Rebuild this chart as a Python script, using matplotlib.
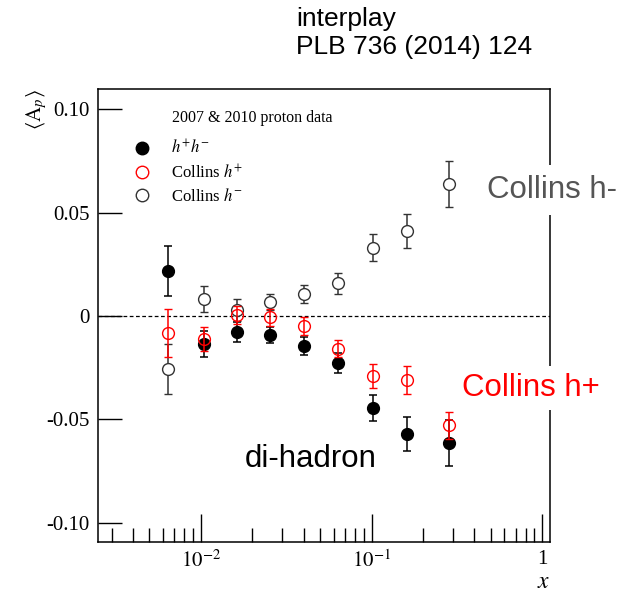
import numpy as np
import matplotlib
matplotlib.use('Agg')
import matplotlib.pyplot as plt
from matplotlib.lines import Line2D
from matplotlib.ticker import FixedLocator, FixedFormatter, LogLocator, NullFormatter

plt.rcParams['font.family'] = ['Liberation Serif', 'DejaVu Serif']
plt.rcParams['mathtext.fontset'] = 'stix'
plt.rcParams['axes.unicode_minus'] = False

# mean x of each bin
X_BINS = [0.0064, 0.0105, 0.0163, 0.0256, 0.0402, 0.0633, 0.102, 0.161, 0.283]

# di-hadron asymmetry h+h-
DIHADRON = [0.0219, -0.0135, -0.0077, -0.0092, -0.0145, -0.0227, -0.0444, -0.0570, -0.0614]
DIHADRON_ERR = [0.0121, 0.0063, 0.0048, 0.0040, 0.0044, 0.0048, 0.0063, 0.0082, 0.0113]

# Collins h+
COLLINS_POS = [-0.0082, -0.0111, 0.0005, -0.0005, -0.0048, -0.0159, -0.0290, -0.0309, -0.0527]
COLLINS_POS_ERR = [0.0118, 0.0060, 0.0045, 0.0041, 0.0044, 0.0041, 0.0056, 0.0066, 0.0065]

# Collins h-
COLLINS_NEG = [-0.0256, 0.0082, 0.0029, 0.0068, 0.0106, 0.0159, 0.0329, 0.0411, 0.0638]
COLLINS_NEG_ERR = [0.0121, 0.0065, 0.0053, 0.0039, 0.0044, 0.0051, 0.0065, 0.0082, 0.0109]

Y_TICKS = [-0.10, -0.05, 0.0, 0.05, 0.10]
Y_TICK_LABELS = ['-0.10', '-0.05', '0', '0.05', '0.10']

fig = plt.figure(figsize=(6.39, 5.92), dpi=100)
ax = fig.add_axes([98 / 639, 50 / 592, 452 / 639, 453 / 592])

ax.axhline(0, color='black', lw=0.9, ls=(0, (3, 2)), zorder=1)

ax.errorbar(X_BINS, DIHADRON, yerr=DIHADRON_ERR, fmt='o', color='black',
            ms=8.5, elinewidth=1.1, capsize=3, capthick=1.1, zorder=3)
ax.errorbar(X_BINS, COLLINS_NEG, yerr=COLLINS_NEG_ERR, fmt='o', color='#333333',
            mfc='white', mec='#333333', ms=8.5, mew=1.0, elinewidth=1.1,
            capsize=3, capthick=1.1, zorder=4)
ax.errorbar(X_BINS, COLLINS_POS, yerr=COLLINS_POS_ERR, fmt='o', color='red',
            mfc='none', mec='red', ms=8.5, mew=1.0, elinewidth=1.1,
            capsize=3, capthick=1.1, zorder=5)

ax.set_xscale('log')
ax.set_xlim(0.0025, 1.11)
ax.set_ylim(-0.1092, 0.1097)

ax.yaxis.set_major_locator(FixedLocator(Y_TICKS))
ax.yaxis.set_major_formatter(FixedFormatter(Y_TICK_LABELS))
ax.xaxis.set_major_locator(FixedLocator([0.01, 0.1, 1.0]))
ax.xaxis.set_major_formatter(FixedFormatter([r'$10^{-2}$', r'$10^{-1}$', '1']))
ax.xaxis.set_minor_locator(LogLocator(base=10, subs=np.arange(2, 10) * 1.0))
ax.xaxis.set_minor_formatter(NullFormatter())

ax.tick_params(axis='y', which='major', direction='in', length=17, width=1,
               labelsize=15, pad=6, right=False)
ax.tick_params(axis='x', which='major', direction='in', length=20, width=1,
               labelsize=15, pad=6, top=False)
ax.tick_params(axis='x', which='minor', direction='in', length=10, width=1, top=False)
for spine in ax.spines.values():
    spine.set_linewidth(1.1)

ax.set_xlabel(r'$x$', fontsize=17, loc='right', labelpad=0)
ax.set_ylabel(r'$\langle \mathrm{A}_p \rangle$', fontsize=15, loc='top', labelpad=-2)

# legend
fig.text(172 / 639, 1 - 118 / 592, '2007 & 2010 proton data', fontsize=11.5,
         va='center', ha='left')
handles = [Line2D([], [], ls='none', marker='o', color='black', ms=9),
           Line2D([], [], ls='none', marker='o', mfc='white', mec='red', ms=9),
           Line2D([], [], ls='none', marker='o', mfc='white', mec='#333333', ms=9)]
labels = [r'$h^{+}h^{-}$', r'Collins $h^{+}$', r'Collins $h^{-}$']
ax.legend(handles, labels, loc='upper left', bbox_to_anchor=(125 / 639, 1 - 131 / 592),
          bbox_transform=fig.transFigure, frameon=False, fontsize=12,
          handlelength=1.0, handletextpad=1.25, labelspacing=0.35, borderpad=0)

# annotations
sans = ['Liberation Sans', 'DejaVu Sans']
fig.text(296 / 639, 1 - 19 / 592, 'interplay', fontsize=19, family=sans,
         va='center', ha='left')
fig.text(296 / 639, 1 - 47 / 592, 'PLB 736 (2014) 124', fontsize=19, family=sans,
         va='center', ha='left')
fig.text(487 / 639, 1 - 190 / 592, 'Collins h-', fontsize=22.5, family=sans,
         color='#555555', va='center', ha='left',
         bbox=dict(facecolor='white', edgecolor='none', pad=7))
fig.text(462 / 639, 1 - 388 / 592, 'Collins h+', fontsize=22.5, family=sans,
         color='red', va='center', ha='left',
         bbox=dict(facecolor='white', edgecolor='none', pad=5))
fig.text(245 / 639, 1 - 459 / 592, 'di-hadron', fontsize=22.5, family=sans,
         color='black', va='center', ha='left')

fig.savefig('out.png', dpi=100)
